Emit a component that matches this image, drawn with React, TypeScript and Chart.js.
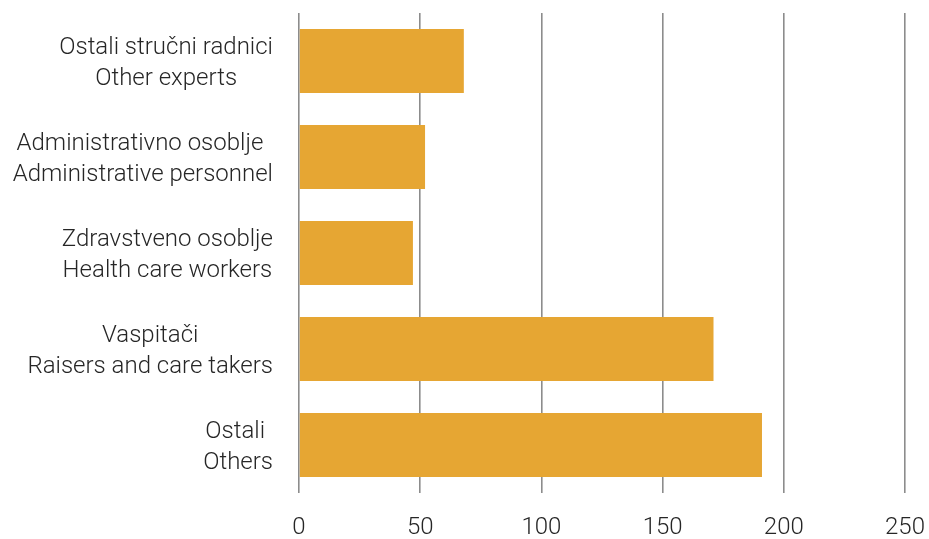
import React, { useEffect, useRef } from "react";
import { Chart, registerables } from "chart.js";

Chart.register(...registerables);

const labelsLocal = [
  "Ostali stručni radnici",
  "Administrativno osoblje ",
  "Zdravstveno osoblje",
  "Vaspitači",
  "Ostali ",
];
const labelsEnglish = [
  "Other experts",
  "Administrative personnel",
  "Health care workers",
  "Raisers and care takers",
  "Others",
];
const values = [68, 52, 47, 171, 191];
const xTicks = [0, 50, 100, 150, 200, 250];

const FONT_FAMILY = "Roboto";
const FONT_SIZE = 24;
const TEXT_COLOR = "#262626";

const blockLabelsPlugin = {
  id: "blockLabels",
  afterDraw(chart: any) {
    const ctx = chart.ctx;
    const yScale = chart.scales.y;
    const area = chart.chartArea;
    const right = area.left - 26;
    const lineH = 31;
    ctx.save();
    ctx.font = `300 ${FONT_SIZE}px ${FONT_FAMILY}`;
    ctx.fillStyle = TEXT_COLOR;
    ctx.textAlign = "center";
    ctx.textBaseline = "middle";
    labelsLocal.forEach((_, i) => {
      const lines = [labelsLocal[i], labelsEnglish[i]];
      const w = Math.max(...lines.map((l) => ctx.measureText(l).width));
      const cx = right - w / 2;
      const cy = yScale.getPixelForTick(i) + 2;
      lines.forEach((l, j) => {
        ctx.fillText(l, cx, cy + (j - (lines.length - 1) / 2) * lineH);
      });
    });
    ctx.restore();
  },
};

export default function App() {
  const ref = useRef<HTMLCanvasElement | null>(null);
  useEffect(() => {
    document.body.style.margin = "0";
    document.body.style.overflow = "hidden";
    const chart = new Chart(ref.current as HTMLCanvasElement, {
      type: "bar",
      data: {
        labels: labelsLocal.map((l, i) => [l, labelsEnglish[i]]),
        datasets: [
          {
            data: values,
            backgroundColor: "#E6A633",
            categoryPercentage: 1,
            barPercentage: 0.667,
          },
        ],
      },
      options: {
        indexAxis: "y",
        animation: false,
        responsive: true,
        maintainAspectRatio: false,
        layout: { padding: { left: 299, right: 24, top: 13, bottom: 0 } },
        plugins: { legend: { display: false }, tooltip: { enabled: false } },
        scales: {
          x: {
            min: 0,
            max: 250,
            afterBuildTicks: (scale: any) => {
              scale.ticks = xTicks.map((v) => ({ value: v }));
            },
            afterFit: (scale: any) => {
              scale.height = 46;
              scale.paddingLeft = 0;
              scale.paddingRight = 0;
            },
            grid: { color: "#8c8c8c", lineWidth: 1.6, drawTicks: false },
            border: { display: false },
            ticks: {
              padding: 21,
              color: TEXT_COLOR,
              font: { family: FONT_FAMILY, size: FONT_SIZE, weight: "300" as any },
            },
          },
          y: { display: false },
        },
      },
      plugins: [blockLabelsPlugin],
    });
    return () => chart.destroy();
  }, []);
  return (
    <div style={{ width: "929px", height: "539px", position: "relative" }}>
      <canvas ref={ref} />
    </div>
  );
}
